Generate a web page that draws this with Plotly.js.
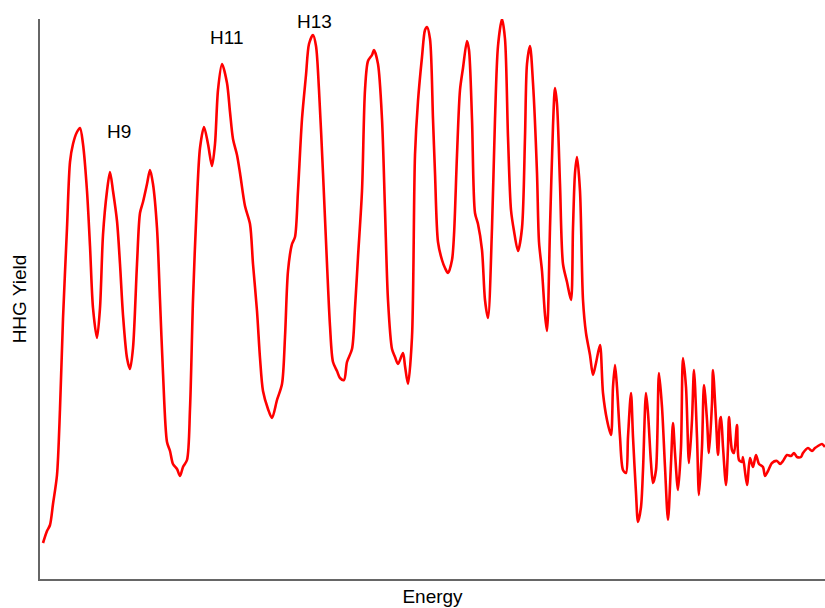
<!DOCTYPE html>
<html>
<head>
<meta charset="utf-8">
<script src="https://cdn.plot.ly/plotly-3.0.1.min.js"></script>
<style>html,body{margin:0;padding:0;background:#fff;}#chart{width:825px;height:608px;}</style>
</head>
<body>
<div id="chart"></div>
<script>
// Energy (arbitrary units) and HHG yield (arbitrary units)
const energy = [
  3,7,10,13,17,20,23,27,30,33,37,40,43,47,50,53,57,60,63,67,70,73,77,80,83,87,90,93,97,100,
  103,107,110,113,117,120,123,127,130,133,137,140,143,147,150,153,157,160,164,168,172,175,178,182,187,190,193,197,200,
  205,210,213,217,220,223,228,232,237,242,245,248,252,255,258,262,266,269,273,276,279,283,287,290,293,297,300,304,307,
  312,315,318,322,325,328,332,334,338,342,345,348,352,355,358,363,365,368,372,375,378,382,385,387,
  390,393,395,398,402,405,408,412,414,417,420,423,427,429,432,435,438,442,445,448,452,455,458,462,465,468,471,474,478,
  482,485,487,490,493,497,499,502,505,507,510,513,515,517,520,523,527,531,533,535,537,540,543,
  546,550,553,556,560,563,567,571,573,575,577,580,583,586,588,591,593,596,598,601,603,606,608,611,613,616,619,622,625,
  628,631,633,635,638,641,643,646,649,652,654,657,659,662,664,667,669,672,673,676,678,680,681,683,686,688,689,692,694,
  697,699,702,703,707,710,713,716,719,723,725,728,732,737,740,743,747,751,754,757,761,763,768,772,775,778,782,785
];
const hhgYield = [
  36,48,54,75,104,170,260,351,417,435,447,451,435,388,333,271,241,271,344,388,407,388,358,315,264,221,210,231,315,366,
  377,395,409,395,351,279,206,137,128,115,110,103,112,119,170,279,380,431,452,435,413,435,489,515,496,467,440,424,406,
  373,355,315,268,221,188,170,161,179,195,242,308,335,342,388,460,504,535,544,533,489,406,315,253,217,208,201,199,217,
  230,271,322,388,489,518,524,529,515,460,369,279,230,222,215,226,213,195,242,424,478,522,549,552,
  540,460,406,337,319,311,306,319,344,424,489,511,538,529,460,366,355,329,279,261,351,460,533,560,540,442,369,348,328,
  351,442,515,533,496,406,337,308,264,248,351,453,491,475,395,315,297,279,351,406,422,388,279,
  246,224,204,216,234,186,159,144,192,214,192,142,109,106,142,186,142,86,57,72,109,186,166,116,96,109,206,172,112,
  59,116,156,126,89,132,221,192,116,159,209,142,84,132,194,159,126,176,209,159,124,159,162,132,94,132,162,129,126,
  154,119,117,122,94,121,112,124,115,112,103,108,116,118,115,118,124,123,126,122,122,126,131,128,131,133,135,132
];
const harmonicLabels = ["H9", "H11", "H13"];
const labelEnergy = [78.5, 186.5, 274.5];
const labelYield = [448, 542, 558];

const font = "Liberation Sans, Arial, Helvetica, sans-serif";

const trace = {
  x: energy,
  y: hhgYield,
  type: "scatter",
  mode: "lines",
  line: {color: "#ff0000", width: 2.6, shape: "spline", smoothing: 0.8},
  hoverinfo: "skip"
};

const annotations = harmonicLabels.map((t, i) => ({
  x: labelEnergy[i], y: labelYield[i], xref: "x", yref: "y",
  text: t, showarrow: false, xanchor: "center", yanchor: "middle",
  font: {family: font, size: 19, color: "#000"}
}));

const layout = {
  width: 825, height: 608,
  margin: {l: 40, r: 0, t: 19, b: 29, pad: 0},
  paper_bgcolor: "#fff", plot_bgcolor: "#fff",
  showlegend: false,
  font: {family: font, size: 19, color: "#000"},
  xaxis: {
    range: [0, 785], showline: true, linecolor: "#666", linewidth: 2,
    showgrid: false, zeroline: false, showticklabels: false, ticks: "",
    title: {text: "Energy", font: {family: font, size: 19, color: "#000"}, standoff: 10}
  },
  yaxis: {
    range: [0, 560], showline: true, linecolor: "#666", linewidth: 2,
    showgrid: false, zeroline: false, showticklabels: false, ticks: "",
    title: {text: "HHG Yield", font: {family: font, size: 19, color: "#000"}, standoff: 6}
  },
  annotations: annotations
};

Plotly.newPlot("chart", [trace], layout, {displayModeBar: false, staticPlot: true});
</script>
</body>
</html>
